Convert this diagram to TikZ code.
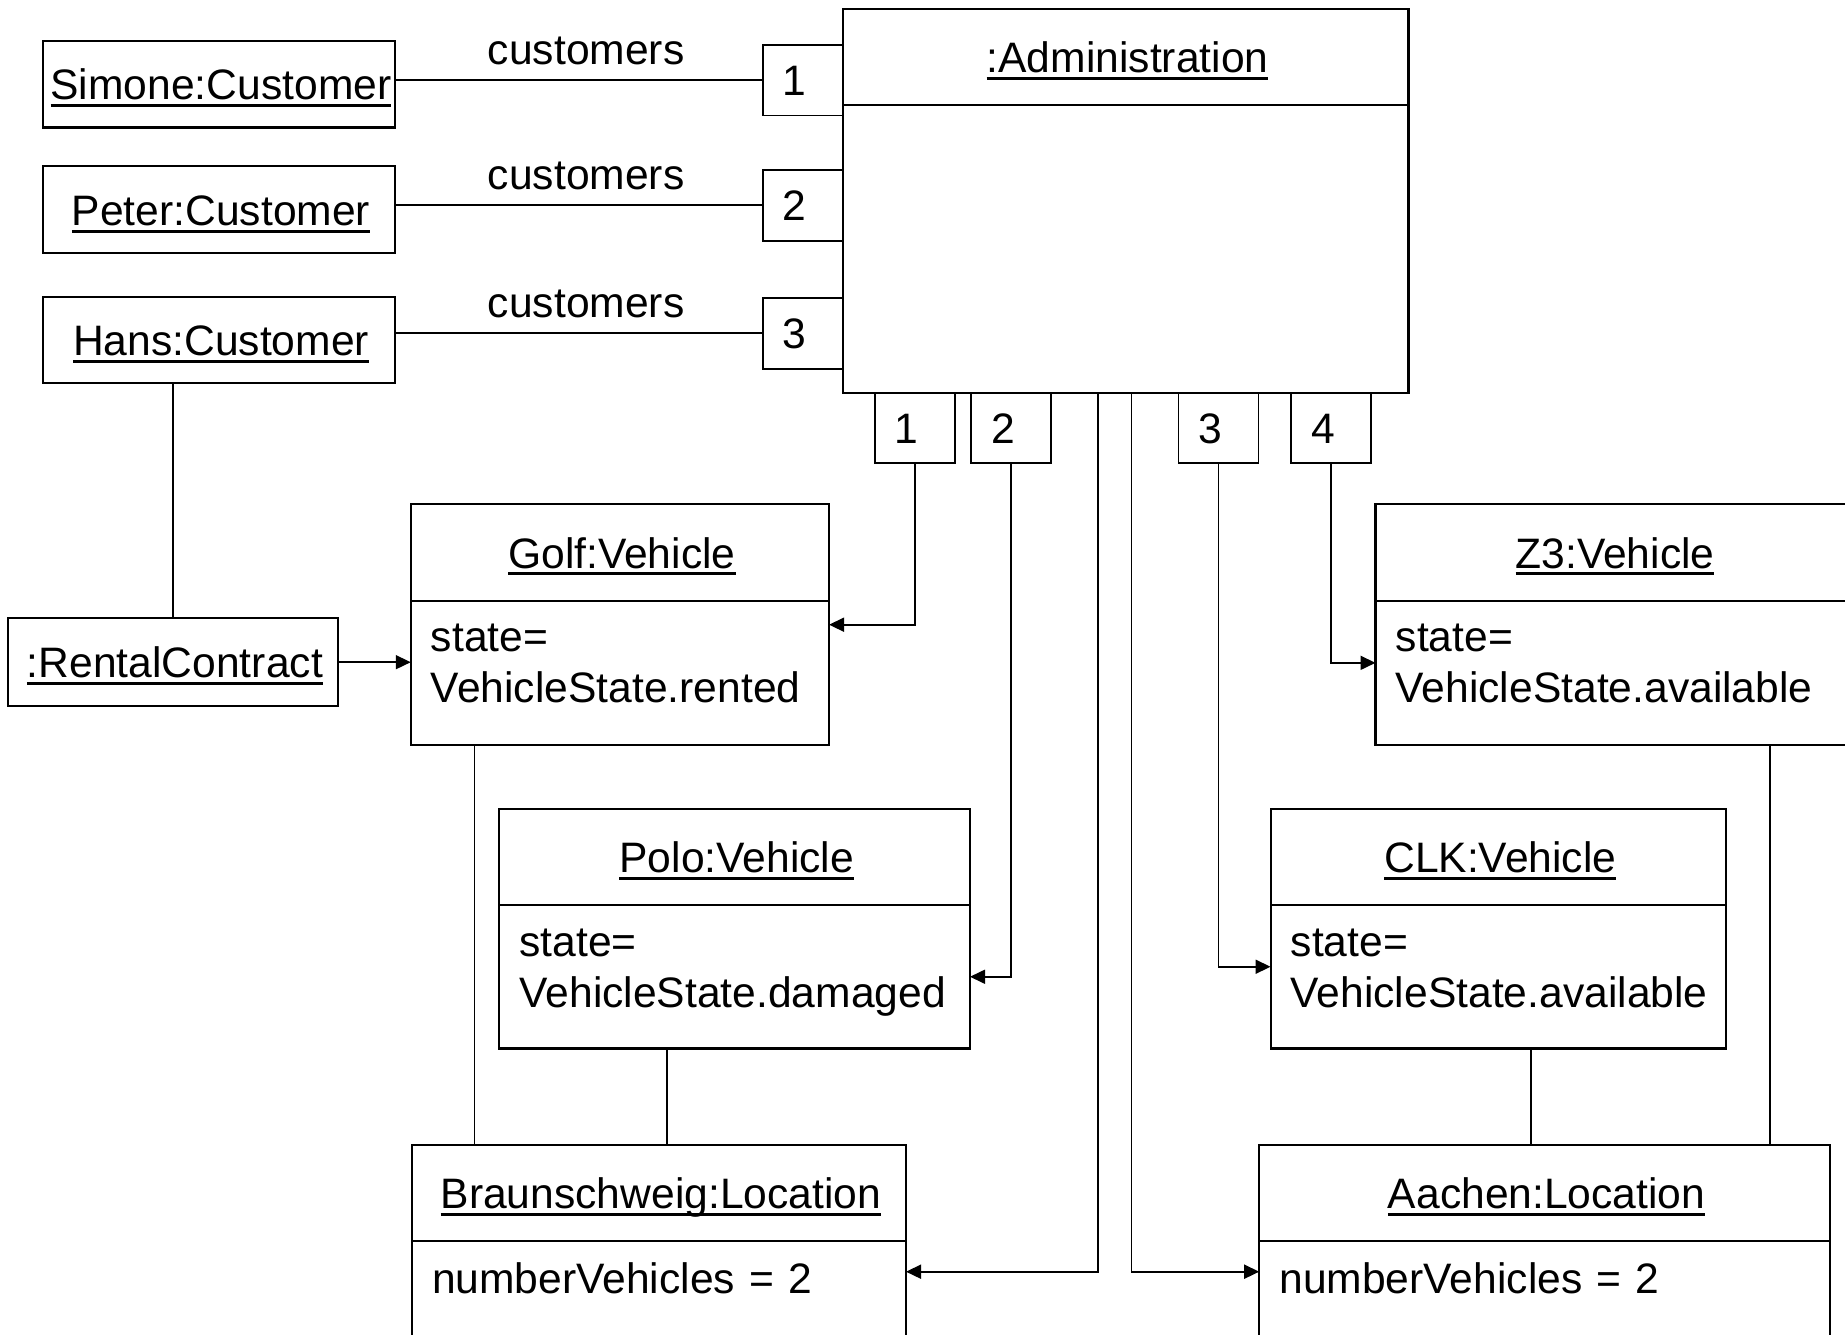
\documentclass[tikz,border=0pt]{standalone}
\usepackage{fontspec}
\setmainfont{Liberation Sans}
\usetikzlibrary{arrows.meta}
\usetikzlibrary{positioning}

\newcommand{\objname}[1]{\setbox0\hbox{#1}\rlap{\rule[-7.3pt]{\wd0}{3pt}}\box0}

\begin{document}
\begin{tikzpicture}[x=1pt,y=-1pt,
   font=\fontsize{42.6}{51}\selectfont,
   box/.style={draw,line width=2.1pt,outer sep=0pt,inner sep=0pt},
   head/.style={box,text height=31pt,text depth=0pt,execute at begin node={\kern4pt}},
   attr/.style={anchor=base west,inner sep=0pt,text width=500pt,align=left},
   qual/.style={draw,line width=1.9pt,outer sep=0pt,inner sep=0pt,minimum width=80pt,minimum height=70.5pt,text height=31pt,text depth=0pt,execute at begin node={\kern-16pt}},
   role/.style={above,inner sep=0pt,yshift=15pt,text height=31pt,text depth=0pt},
   link/.style={line width=1.7pt},
   nav/.style={link,-{Triangle[length=15pt,width=14pt]}}]
   \useasboundingbox (0,0) rectangle (1845,1335);

   % administration object with its qualifiers
   \node[head,minimum width=565.8pt,minimum height=95.7pt] (admin) at (1125.6,57.2) {\objname{:Administration}};
   \node[box,minimum width=565.8pt,minimum height=287.6pt,below=0pt of admin] (adminA) {};
   \node[qual,anchor=north east] (q1) at ([yshift=-35.7pt]admin.north west) {1};
   \node[qual,anchor=north east] (q2) at ([yshift=-160.7pt]admin.north west) {2};
   \node[qual,anchor=north east] (q3) at ([yshift=-288.7pt]admin.north west) {3};
   \node[qual,anchor=north west] (b1) at ([xshift=32pt]adminA.south west) {1};
   \node[qual,anchor=north west] (b2) at ([xshift=128.3pt]adminA.south west) {2};
   \node[qual,anchor=north west] (b3) at ([xshift=335.8pt]adminA.south west) {3};
   \node[qual,anchor=north west] (b4) at ([xshift=448.3pt]adminA.south west) {4};

   % customers
   \node[head,minimum width=352pt,minimum height=86.6pt] (simone) at (219,84.2) {\objname{Simone:Customer}};
   \node[head,minimum width=352pt,minimum height=86.6pt] (peter) at (219,209.7) {\objname{Peter:Customer}};
   \node[head,minimum width=352pt,minimum height=86.6pt] (hans) at (219,340) {\objname{Hans:Customer}};
   \node[head,minimum width=330.3pt,minimum height=87.7pt] (rc) at (172.9,662.2) {\objname{:RentalContract}};

   % vehicles
   \node[head,minimum width=418.3pt,minimum height=96.4pt] (golf) at (619.9,552.5) {\objname{Golf:Vehicle}};
   \node[box,minimum width=418.3pt,minimum height=144.3pt,below=0pt of golf] (golfA) {};
   \node[attr] (golfT) at ([xshift=20pt,yshift=-51pt]golfA.north west) {state=\\VehicleState.rented};

   \node[head,minimum width=470.6pt,minimum height=96pt] (polo) at (734.7,857) {\objname{Polo:Vehicle}};
   \node[box,minimum width=470.6pt,minimum height=143.5pt,below=0pt of polo] (poloA) {};
   \node[attr] (poloT) at ([xshift=20pt,yshift=-51pt]poloA.north west) {state=\\VehicleState.damaged};

   \node[head,minimum width=475pt,minimum height=96.4pt] (z3) at (1613,552.5) {\objname{Z3:Vehicle}};
   \node[box,minimum width=475pt,minimum height=144.3pt,below=0pt of z3] (z3A) {};
   \node[attr] (z3T) at ([xshift=20pt,yshift=-51pt]z3A.north west) {state=\\VehicleState.available};

   \node[head,minimum width=455.5pt,minimum height=96pt] (clk) at (1498.3,857) {\objname{CLK:Vehicle}};
   \node[box,minimum width=455.5pt,minimum height=143.5pt,below=0pt of clk] (clkA) {};
   \node[attr] (clkT) at ([xshift=20pt,yshift=-51pt]clkA.north west) {state=\\VehicleState.available};

   % locations
   \node[head,minimum width=494.2pt,minimum height=96pt] (braun) at (658.9,1193) {\objname{Braunschweig:Location}};
   \node[box,minimum width=494.2pt,minimum height=130pt,below=0pt of braun] (braunA) {};
   \node[attr] (braunT) at ([xshift=20pt,yshift=-52pt]braunA.north west) {numberVehicles = 2};

   \node[head,minimum width=570.8pt,minimum height=96pt] (aachen) at (1544.6,1193) {\objname{Aachen:Location}};
   \node[box,minimum width=570.8pt,minimum height=130pt,below=0pt of aachen] (aachenA) {};
   \node[attr] (aachenT) at ([xshift=20pt,yshift=-52pt]aachenA.north west) {numberVehicles = 2};

   % links
   \draw[link] (q1.west -| simone.east) -- (q1.west) node[role,pos=0.52] {customers};
   \draw[link] (q2.west -| peter.east) -- (q2.west) node[role,pos=0.52] {customers};
   \draw[link] (q3.west -| hans.east) -- (q3.west) node[role,pos=0.52] {customers};
   \draw[link] (rc.north |- hans.south) -- (rc.north);
   \draw[nav] (rc.east) -- (rc.east -| golfA.west);

   \draw[nav] (b1.south) |- ([yshift=-24pt]golfA.north east);
   \draw[nav] (b2.south) |- (poloA.east);
   \draw[nav] (b3.south) |- ([yshift=10pt]clkA.west);
   \draw[nav] (b4.south) |- ([yshift=10pt]z3A.west);
   \draw[nav] ([xshift=-27.6pt]adminA.south) |- ([yshift=-30.7pt]braunA.north east);
   \draw[nav] ([xshift=6pt]adminA.south) |- ([yshift=-30.7pt]aachenA.north west);

   \coordinate (gb) at ([xshift=63.8pt]golfA.south west);
   \coordinate (pb) at ([xshift=8pt]braun.north);
   \coordinate (cb) at ([xshift=-13.6pt]aachen.north);
   \coordinate (zb) at ([xshift=-60pt]aachen.north east);
   \draw[link] (gb) -- (gb |- braun.north);
   \draw[link] (pb) -- (pb |- poloA.south);
   \draw[link] (cb) -- (cb |- clkA.south);
   \draw[link] (zb) -- (zb |- z3A.south);
\end{tikzpicture}
\end{document}
